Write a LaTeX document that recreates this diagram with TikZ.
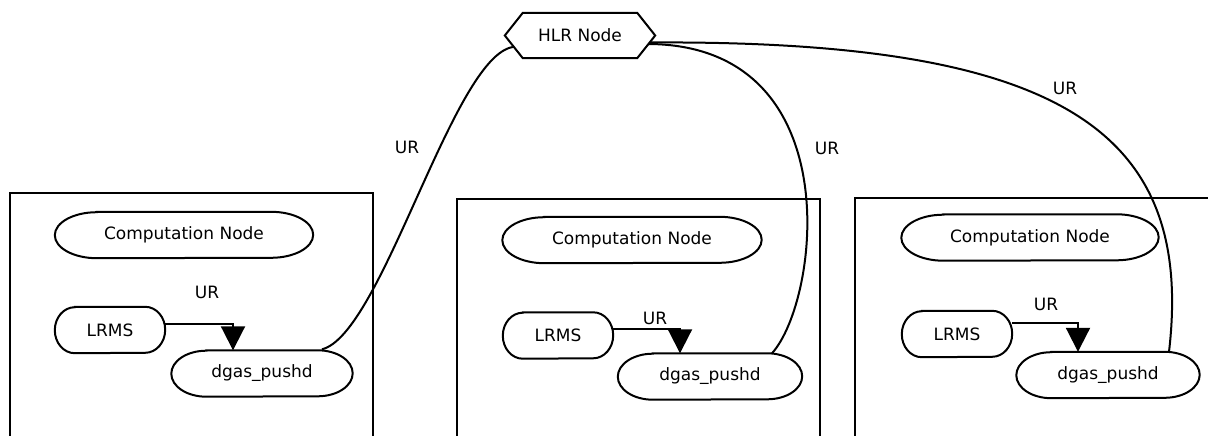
\documentclass[tikz,border=0pt]{standalone}
\usepackage{fontspec}
\setmainfont{DejaVu Sans}
\usetikzlibrary{arrows.meta,calc}
\newcommand\pillshape[3]{%
  \draw[shapeline] ([xshift=#2pt]#1.north west) -- ([xshift=-#2pt]#1.north east)
    arc[start angle=90,end angle=-90,x radius=#2pt,y radius=#3pt]
    -- ([xshift=#2pt]#1.south west)
    arc[start angle=270,end angle=90,x radius=#2pt,y radius=#3pt] -- cycle;}
\tikzset{
  shapeline/.style={line width=2pt,black},
  pillnode/.style={inner sep=0pt,minimum height=46pt},
  boxnode/.style={draw,line width=2pt,inner sep=0pt,minimum height=257pt},
  conn/.style={line width=2pt},
  flow/.style={line width=2pt,-{Triangle[width=24pt,length=24pt]}},
  lbl/.style={inner sep=1pt}
}
\begin{document}
\begin{tikzpicture}[x=1pt,y=-1pt,font=\fontsize{17pt}{20pt}\selectfont]
\useasboundingbox (0,0) rectangle (1208,436);
\clip (0,0) rectangle (1208,436);
\fill[white] (0,0) rectangle (1208,436);

% boxes
\node[boxnode,minimum width=363pt] (b1) at (191.5,321.5) {};
\node[boxnode,minimum width=363pt] (b2) at (638.5,327.5) {};
\node[boxnode,minimum width=400pt] (b3) at (1055,326.5) {};

% HLR
\node[inner sep=0pt,minimum width=150pt,minimum height=45pt] (hlr) at (580,35.5) {HLR Node};
\draw[shapeline] (hlr.west) -- ([xshift=18pt]hlr.north west) -- ([xshift=-18pt]hlr.north east)
  -- (hlr.east) -- ([xshift=-18pt]hlr.south east) -- ([xshift=18pt]hlr.south west) -- cycle;

% Computation nodes
\node[pillnode,minimum width=258pt] (c1) at (184,235) {Computation Node};
\node[pillnode,minimum width=259pt] (c2) at (632,240) {Computation Node};
\node[pillnode,minimum width=257pt] (c3) at (1030,237.5) {Computation Node};
\pillshape{c1}{42}{23}
\pillshape{c2}{42}{23}
\pillshape{c3}{42}{23}

% LRMS
\node[pillnode,minimum width=110pt] (l1) at (110,330) {LRMS};
\node[pillnode,minimum width=110pt] (l2) at (558,335.5) {LRMS};
\node[pillnode,minimum width=110pt] (l3) at (957,334) {LRMS};
\pillshape{l1}{20}{23}
\pillshape{l2}{20}{23}
\pillshape{l3}{20}{23}

% dgas_pushd
\node[pillnode,minimum width=181pt] (d1) at (262,373.5) {dgas\_pushd};
\node[pillnode,minimum width=184pt] (d2) at (710,376.5) {dgas\_pushd};
\node[pillnode,minimum width=183pt] (d3) at (1108,375) {dgas\_pushd};
\pillshape{d1}{35}{23}
\pillshape{d2}{35}{23}
\pillshape{d3}{35}{23}

% internal flows
\draw[flow] ($(l1.east)+(0,-6)$) -| ($(d1.north)+(-29,0)$) node[lbl] at (207,292) {UR};
\draw[flow] ($(l2.east)+(0,-6.5)$) -| ($(d2.north)+(-30,0)$) node[lbl] at (655,318) {UR};
\draw[flow] ($(l3.east)+(0,-11)$) -| ($(d3.north)+(-30,0)$) node[lbl] at (1046,304) {UR};

% connectors to HLR
\draw[conn] ($(d1.north)+(60,-1)$) .. controls +(60,-15) and +(-60,10) .. ($(hlr.west)+(8,11.5)$)
  node[lbl] at (407,147) {UR};
\draw[conn] ($(hlr.east)+(-7,8.5)$) .. controls +(202,1) and +(48,-53.5) .. ($(d2.north)+(62,0)$)
  node[lbl] at (827,148) {UR};
\draw[conn] ($(hlr.east)+(-5,7)$) .. controls +(410,-2.5) and +(26,-222) .. ($(d3.north)+(61,0)$)
  node[lbl] at (1065,88) {UR};
\end{tikzpicture}
\end{document}
